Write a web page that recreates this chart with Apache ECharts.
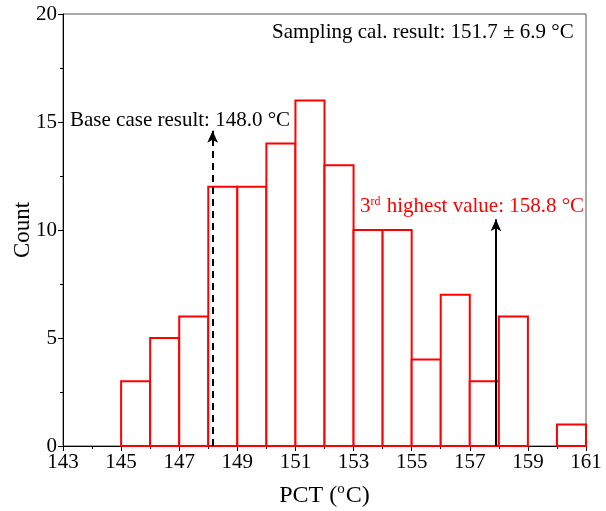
<!DOCTYPE html>
<html>
<head>
<meta charset="utf-8">
<script src="https://cdn.jsdelivr.net/npm/echarts@6/dist/echarts.min.js"></script>
<style>
  html, body { margin: 0; padding: 0; background: #fff; }
  #main { width: 606px; height: 511px; }
</style>
</head>
<body>
<div id="main"></div>
<script>
// histogram bins (left edge, right edge) and counts
const binStart = [145, 146, 147, 148, 149, 150, 151, 152, 153, 154, 155, 156, 157, 158, 159, 160];
const binEnd   = [146, 147, 148, 149, 150, 151, 152, 153, 154, 155, 156, 157, 158, 159, 160, 161];
const counts   = [3, 5, 6, 12, 12, 14, 16, 13, 10, 10, 4, 7, 3, 6, 0, 1];

// arrows: x position and top value
const baseArrow = [148.15, 14.6];
const thirdArrow = [157.9, 10.5];

const FONT = '"Liberation Serif", "Times New Roman", serif';

const myChart = echarts.init(document.getElementById('main'));

let binData = binStart.map((s, i) => [s, binEnd[i], counts[i]]);

const option = {
  animation: false,
  grid: {
    left: 63, right: 20, top: 14, bottom: 65,
    containLabel: false,
    outerBoundsMode: 'none',
    show: true, borderColor: '#555', borderWidth: 1
  },
  xAxis: {
    type: 'value',
    min: 143, max: 161, interval: 2,
    name: '{a|PCT (}{s|o}{a|C)}',
    nameLocation: 'middle',
    nameMoveOverlap: false,
    nameGap: 36,
    nameTextStyle: {
      rich: {
        a: { fontFamily: FONT, fontSize: 24, color: '#000' },
        s: { fontFamily: FONT, fontSize: 15, color: '#000', verticalAlign: 'top', padding: [0, 1, 12, 0] }
      }
    },
    splitLine: { show: false },
    axisLine: { onZero: false, lineStyle: { color: '#000', width: 1 } },
    axisTick: { show: true, inside: false, length: 5, lineStyle: { color: '#000' } },
    minorTick: { show: true, splitNumber: 2, length: 3, lineStyle: { color: '#000' } },
    axisLabel: { color: '#000', fontFamily: FONT, fontSize: 21, margin: 6 }
  },
  yAxis: {
    type: 'value',
    min: 0, max: 20, interval: 5,
    name: 'Count',
    nameLocation: 'middle',
    nameMoveOverlap: false,
    nameGap: 29,
    nameTextStyle: { fontFamily: FONT, fontSize: 23, color: '#000' },
    splitLine: { show: false },
    axisLine: { show: true, lineStyle: { color: '#000', width: 1 } },
    axisTick: { show: true, inside: false, length: 5, lineStyle: { color: '#000' } },
    minorTick: { show: true, splitNumber: 2, length: 3, lineStyle: { color: '#000' } },
    axisLabel: { color: '#000', fontFamily: FONT, fontSize: 21, margin: 6 }
  },
  series: [
    {
      type: 'custom',
      data: binData,
      encode: { x: [0, 1], y: 2 },
      z: 2,
      renderItem: function (params, api) {
        if (api.value(2) <= 0) return null;
        const p0 = api.coord([api.value(0), api.value(2)]);
        const p1 = api.coord([api.value(1), 0]);
        return {
          type: 'rect',
          shape: { x: p0[0], y: p0[1], width: p1[0] - p0[0], height: p1[1] - p0[1] },
          style: { fill: '#fff', stroke: '#ff0000', lineWidth: 2 }
        };
      }
    },
    {
      type: 'line',
      data: [[143, 0]],
      showSymbol: false,
      lineStyle: { opacity: 0 },
      z: 5,
      markLine: {
        silent: true,
        symbol: ['none', 'arrow'],
        symbolSize: [8, 12],
        label: { show: false },
        emphasis: { disabled: true },
        data: [
          [
            { coord: [baseArrow[0], 0], lineStyle: { type: [7, 5], color: '#000', width: 2 } },
            { coord: [baseArrow[0], baseArrow[1]] }
          ],
          [
            { coord: [thirdArrow[0], 0], lineStyle: { type: 'solid', color: '#000', width: 2 } },
            { coord: [thirdArrow[0], thirdArrow[1]] }
          ]
        ]
      }
    }
  ],
  graphic: [
    {
      type: 'text', left: 272, top: 22, z: 10,
      style: { text: 'Sampling cal. result: 151.7 ± 6.9 °C', font: '21px ' + FONT, fill: '#000' }
    },
    {
      type: 'text', left: 70, top: 110, z: 10,
      style: { text: 'Base case result: 148.0 °C', font: '21px ' + FONT, fill: '#000' }
    },
    {
      type: 'text', left: 360, top: 196, z: 10,
      style: {
        text: '{a|3}{s|rd}{a| highest value: 158.8 °C}',
        rich: {
          a: { fontFamily: FONT, fontSize: 21, fill: '#ff0000', color: '#ff0000' },
          s: { fontFamily: FONT, fontSize: 12, fill: '#ff0000', color: '#ff0000', verticalAlign: 'top', padding: [0, 1, 9, 0] }
        }
      }
    }
  ]
};
myChart.setOption(option);
</script>
</body>
</html>
